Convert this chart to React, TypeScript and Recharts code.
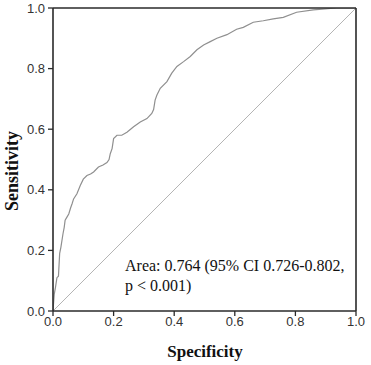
import React from "react";
import { LineChart, Line, XAxis, YAxis, ReferenceLine } from "recharts";

const fpr = [0,0.004,0.008,0.013,0.018,0.022,0.026,0.033,0.037,0.04,0.046,0.052,0.058,0.063,0.068,0.079,0.09,0.1,0.112,0.124,0.134,0.15,0.165,0.178,0.185,0.189,0.195,0.2,0.211,0.227,0.244,0.266,0.288,0.31,0.326,0.332,0.337,0.343,0.354,0.376,0.392,0.409,0.431,0.453,0.475,0.497,0.519,0.541,0.574,0.606,0.628,0.661,0.694,0.727,0.76,0.804,0.859,0.936,1];
const tpr = [0,0.055,0.077,0.11,0.115,0.19,0.21,0.255,0.276,0.30,0.31,0.32,0.34,0.354,0.37,0.387,0.414,0.435,0.447,0.452,0.459,0.475,0.482,0.49,0.5,0.519,0.536,0.569,0.58,0.58,0.59,0.608,0.624,0.635,0.652,0.665,0.696,0.713,0.735,0.757,0.785,0.807,0.823,0.84,0.862,0.878,0.889,0.9,0.912,0.93,0.936,0.953,0.958,0.964,0.969,0.986,0.994,1,1];
const diagX = [0, 1];
const diagY = [0, 1];
const ticks = [0, 0.2, 0.4, 0.6, 0.8, 1.0];
const xTitle = "Specificity";
const yTitle = "Sensitivity";
const noteLine1 = "Area: 0.764 (95% CI 0.726-0.802,";
const noteLine2 = "p < 0.001)";

const rocData = fpr.map((x, i) => ({ x, y: tpr[i] }));
const diagData = diagX.map((x, i) => ({ x, y: diagY[i] }));

const axisColor = "#2a2a2a";
const tickFont = "'Liberation Sans', Arial, sans-serif";
const tickStyle = { fontFamily: tickFont, fontSize: 13, fill: "#333" };

export default function App() {
  return (
    <div style={{ position: "absolute", left: 0, top: 0, width: 371, height: 365, background: "#fff" }}>
      <LineChart width={371} height={365} margin={{ top: 8, right: 15, bottom: 24, left: 8 }}>
        <XAxis
          dataKey="x"
          type="number"
          domain={[0, 1]}
          ticks={ticks}
          tickFormatter={(v: number) => v.toFixed(1)}
          height={30}
          tickSize={5}
          tickMargin={1}
          tick={tickStyle}
          fontSize={13}
          fontFamily={tickFont}
          axisLine={{ stroke: axisColor, strokeWidth: 1.6 }}
          tickLine={{ stroke: axisColor, strokeWidth: 1.3 }}
          allowDataOverflow
        />
        <YAxis
          dataKey="y"
          type="number"
          domain={[0, 1]}
          ticks={ticks}
          tickFormatter={(v: number) => v.toFixed(1)}
          width={45}
          tickSize={5}
          tickMargin={3}
          tick={tickStyle}
          fontSize={13}
          fontFamily={tickFont}
          axisLine={{ stroke: axisColor, strokeWidth: 1.6 }}
          tickLine={{ stroke: axisColor, strokeWidth: 1.3 }}
          allowDataOverflow
        />
        <Line data={diagData} dataKey="y" stroke="#b4b4b4" strokeWidth={1} dot={false} isAnimationActive={false} />
        <Line data={rocData} dataKey="y" stroke="#8f8f8f" strokeWidth={1.2} dot={false} isAnimationActive={false} />
        <ReferenceLine y={1} stroke={axisColor} strokeWidth={1.6} />
        <ReferenceLine x={1} stroke={axisColor} strokeWidth={1.6} />
      </LineChart>
      <svg width={371} height={365} style={{ position: "absolute", left: 0, top: 0, pointerEvents: "none" }}>
        <text x={125} y={271} fontFamily="'Liberation Serif', 'Times New Roman', serif" fontSize={16} fill="#111">{noteLine1}</text>
        <text x={125} y={291} fontFamily="'Liberation Serif', 'Times New Roman', serif" fontSize={16} fill="#111">{noteLine2}</text>
        <text x={205} y={357} textAnchor="middle" fontFamily="'Liberation Serif', 'Times New Roman', serif" fontWeight="bold" fontSize={17} fill="#111">{xTitle}</text>
        <text x={0} y={0} transform="translate(18,171) rotate(-90)" textAnchor="middle" fontFamily="'Liberation Serif', 'Times New Roman', serif" fontWeight="bold" fontSize={18} fill="#111">{yTitle}</text>
      </svg>
    </div>
  );
}
